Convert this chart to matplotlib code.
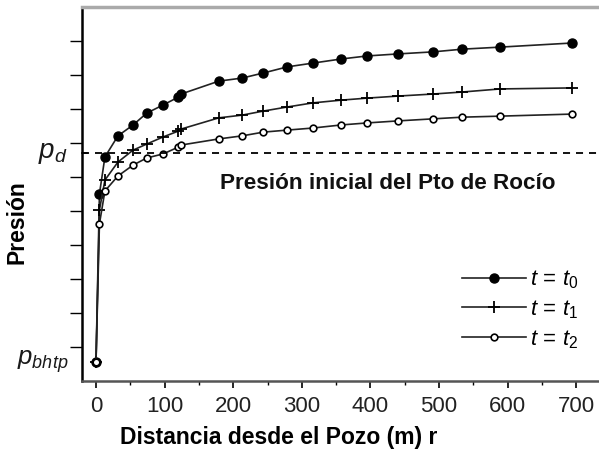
import matplotlib
matplotlib.use("Agg")
import matplotlib.pyplot as plt
from matplotlib.ticker import MultipleLocator, NullFormatter

plt.rcParams['font.family'] = ['Liberation Sans', 'DejaVu Sans']
plt.rcParams['mathtext.fontset'] = 'custom'
plt.rcParams['mathtext.it'] = 'Liberation Sans:italic'
plt.rcParams['mathtext.rm'] = 'Liberation Sans'

# Distance from the well (m)
r = [0, 5, 13, 32, 54, 74, 98, 120, 124, 179, 213, 244, 279, 316, 357, 395,
     440, 491, 534, 589, 693]

# Pressure profiles (relative units) for three times
p_t0 = [0.56, 5.50, 6.59, 7.21, 7.53, 7.88, 8.12, 8.35, 8.44, 8.82, 8.91, 9.06,
        9.24, 9.35, 9.47, 9.56, 9.62, 9.68, 9.76, 9.82, 9.94]
p_t1 = [0.56, 5.03, 5.91, 6.44, 6.79, 6.97, 7.18, 7.35, 7.41, 7.74, 7.82, 7.94,
        8.06, 8.18, 8.26, 8.32, 8.38, 8.44, 8.50, 8.59, 8.62]
p_t2 = [0.56, 4.62, 5.59, 6.03, 6.35, 6.56, 6.68, 6.88, 6.94, 7.12, 7.21, 7.32,
        7.38, 7.44, 7.53, 7.59, 7.65, 7.71, 7.76, 7.79, 7.85]

p_dew = 6.71
p_bhtp = 0.56

labels = [r'$t\,=\,t_0$', r'$t\,=\,t_1$', r'$t\,=\,t_2$']
x_ticks = [0, 100, 200, 300, 400, 500, 600, 700]

fig = plt.figure(figsize=(5.99, 4.49), dpi=100)
ax = fig.add_axes([82 / 599, 68 / 449, 1 - 82 / 599, 374 / 449])

line_kw = dict(color='#222222', lw=1.2)
ax.plot(r, p_t0, marker='o', ms=6.5, mfc='black', mec='black', label=labels[0], **line_kw)
ax.plot(r, p_t1, marker='+', ms=8, mew=1.3, mec='black', label=labels[1], **line_kw)
ax.plot(r, p_t2, marker='o', ms=4.8, mfc='white', mec='black', mew=1.2, label=labels[2], **line_kw)

# Initial dew-point pressure
ax.axhline(p_dew, color='black', lw=1.3, dashes=(3.9, 3.3))
ax.text(181, 5.82, 'Presión inicial del Pto de Rocío', fontsize=16.2,
        fontweight='bold', va='center', ha='left', color='#111111')

ax.set_xlim(-20.4, 733)
ax.set_ylim(0, 11)

ax.set_xticks(x_ticks)
ax.xaxis.set_minor_locator(MultipleLocator(50))
ax.set_yticks(range(1, 11))
ax.yaxis.set_major_formatter(NullFormatter())
ax.tick_params(axis='x', which='major', length=5, width=1.2, labelsize=16,
               labelcolor='#222222', pad=6)
ax.tick_params(axis='x', which='minor', length=3, width=1.0)
ax.tick_params(axis='y', which='major', length=9, width=1.0, direction='out')

ax.spines['right'].set_visible(False)
ax.spines['top'].set_color('#aaaaaa')
ax.spines['top'].set_linewidth(2.5)
ax.spines['left'].set_linewidth(1.8)
ax.spines['bottom'].set_color('#555555')
ax.spines['bottom'].set_linewidth(1.8)

# Short inward mark at the dew-point level
ax.plot([-20.4, -13], [p_dew, p_dew], color='black', lw=1.2, clip_on=False)

ax.set_xlabel('Distancia desde el Pozo (m) r', fontsize=16.5, fontweight='bold')
ax.xaxis.set_label_coords(0.381, -0.12)
ax.set_ylabel('Presión', fontsize=16.5, fontweight='bold')
ax.yaxis.set_label_coords(-0.104, 0.425)

ax.text(-0.085, p_dew, r'$p_d$', transform=ax.get_yaxis_transform(),
        fontsize=20, ha='left', va='center', color='#1a1a1a')
ax.text(-0.126, p_bhtp, r'$p_{bhtp}$', transform=ax.get_yaxis_transform(),
        fontsize=18.5, ha='left', va='center', color='#1a1a1a')

leg = ax.legend(loc='upper left', bbox_to_anchor=(0.717, 0.325), frameon=False,
                fontsize=16, handlelength=2.9, handletextpad=0.2,
                labelspacing=0.33, borderaxespad=0)

fig.savefig('out.png', dpi=100)
